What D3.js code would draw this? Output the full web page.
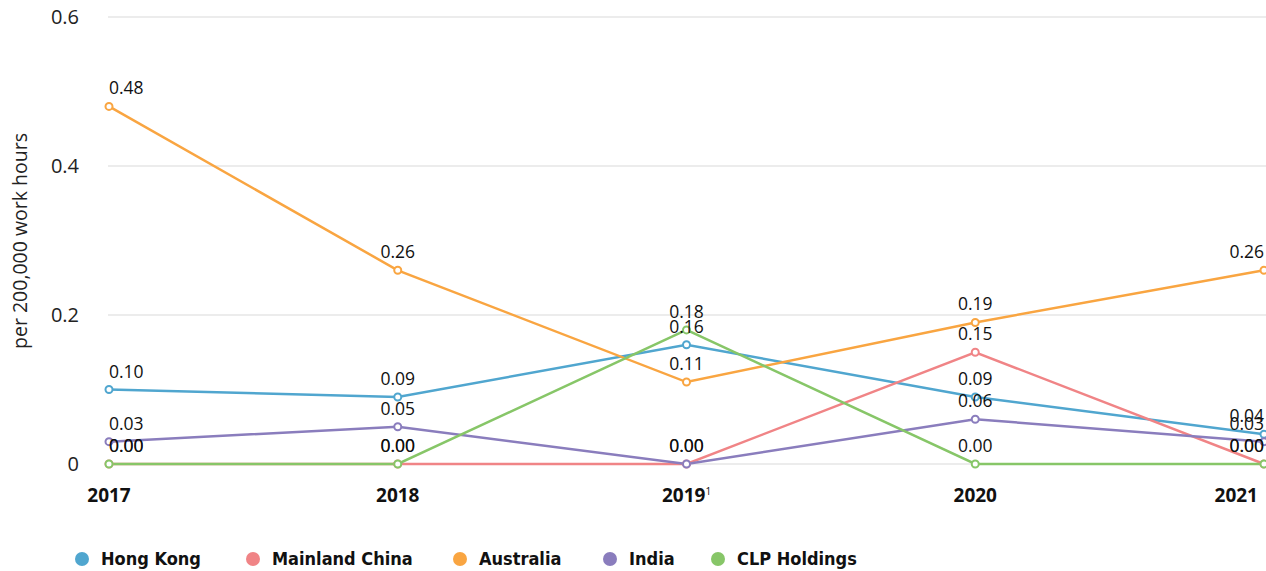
<!DOCTYPE html>
<html lang="en">
<head>
<meta charset="UTF-8">
<script src="https://d3js.org/d3.v7.min.js"></script>
<style>
  body { margin: 0; background: #fff; }
  svg { font-family: "Open Sans", "Noto Sans", sans-serif; }
</style>
</head>
<body>
<script>
// data
const years = ["2017", "2018", "2019", "2020", "2021"];
const seriesNames = ["Hong Kong", "Mainland China", "Australia", "India", "CLP Holdings"];
const hongKong = [0.10, 0.09, 0.16, 0.09, 0.04];
const mainlandChina = [0.00, 0.00, 0.00, 0.15, 0.00];
const australia = [0.48, 0.26, 0.11, 0.19, 0.26];
const india = [0.03, 0.05, 0.00, 0.06, 0.03];
const clpHoldings = [0.00, 0.00, 0.18, 0.00, 0.00];
const yTicks = [0, 0.2, 0.4, 0.6];
const colors = ["#50a6cf", "#f08486", "#f9a541", "#8a7dbd", "#87c668"];

const allSeries = [hongKong, mainlandChina, australia, india, clpHoldings];

const W = 1266, H = 571;
const plotLeft = 109, plotRight = 1264, plotTop = 17, plotBottom = 464;

const svg = d3.select("body").append("svg")
    .attr("width", W)
    .attr("height", H);

const x = d3.scalePoint().domain(years).range([plotLeft, plotRight]);
const y = d3.scaleLinear().domain([0, 0.6]).range([plotBottom, plotTop]);

// gridlines
svg.append("g").selectAll("line")
    .data(yTicks)
    .enter().append("line")
    .attr("x1", plotLeft - 1)
    .attr("x2", W)
    .attr("y1", d => y(d))
    .attr("y2", d => y(d))
    .attr("stroke", "#d9d9d9")
    .attr("stroke-width", 1);

// y tick labels
svg.append("g").selectAll("text")
    .data(yTicks)
    .enter().append("text")
    .attr("x", 79)
    .attr("y", d => y(d))
    .attr("dy", "0.35em")
    .attr("text-anchor", "end")
    .attr("font-size", 20)
    .attr("fill", "#222")
    .text(d => d === 0 ? "0" : d.toFixed(1));

// y axis title
svg.append("text")
    .attr("transform", "translate(27,241) rotate(-90)")
    .attr("text-anchor", "middle")
    .attr("font-size", 19.5)
    .attr("fill", "#222")
    .text("per 200,000 work hours");

// x labels
const xl = svg.append("g").selectAll("text")
    .data(years)
    .enter().append("text")
    .attr("x", (d, i) => i === years.length - 1 ? 1258 : x(d))
    .attr("y", 502)
    .attr("text-anchor", (d, i) => i === years.length - 1 ? "end" : "middle")
    .attr("font-size", 19)
    .attr("font-weight", "bold")
    .attr("fill", "#111");
xl.text(d => d);
xl.filter(d => d === "2019").append("tspan")
    .attr("font-size", 10)
    .attr("font-weight", "normal")
    .attr("dy", -7)
    .text("1");

// lines
const line = d3.line().x((d, i) => x(years[i])).y(d => y(d));

allSeries.forEach((vals, s) => {
    svg.append("path")
        .datum(vals)
        .attr("d", line)
        .attr("fill", "none")
        .attr("stroke", colors[s])
        .attr("stroke-width", 2.5);
});

allSeries.forEach((vals, s) => {
    svg.append("g").selectAll("circle")
        .data(vals)
        .enter().append("circle")
        .attr("cx", (d, i) => x(years[i]))
        .attr("cy", d => y(d))
        .attr("r", 3.5)
        .attr("fill", "#fff")
        .attr("stroke", colors[s])
        .attr("stroke-width", 2);
});

// value labels
allSeries.forEach((vals, s) => {
    svg.append("g").selectAll("text")
        .data(vals)
        .enter().append("text")
        .attr("x", (d, i) => x(years[i]))
        .attr("y", d => y(d) - 12)
        .attr("text-anchor", (d, i) => i === 0 ? "start" : (i === years.length - 1 ? "end" : "middle"))
        .attr("font-size", 17.5)
        .attr("fill", "#111")
        .text(d => d.toFixed(2));
});

// legend
const legendX = [82, 253, 460, 610, 718];
const legend = svg.append("g").selectAll("g")
    .data(seriesNames)
    .enter().append("g")
    .attr("transform", (d, i) => `translate(${legendX[i]},559)`);

legend.append("circle")
    .attr("r", 7)
    .attr("fill", (d, i) => colors[i]);

legend.append("text")
    .attr("x", 19)
    .attr("dy", "0.36em")
    .style("font-family", "'DejaVu Sans', sans-serif")
    .style("font-stretch", "condensed")
    .attr("font-size", 18)
    .attr("font-weight", "bold")
    .attr("fill", "#111")
    .text(d => d);
</script>
</body>
</html>
